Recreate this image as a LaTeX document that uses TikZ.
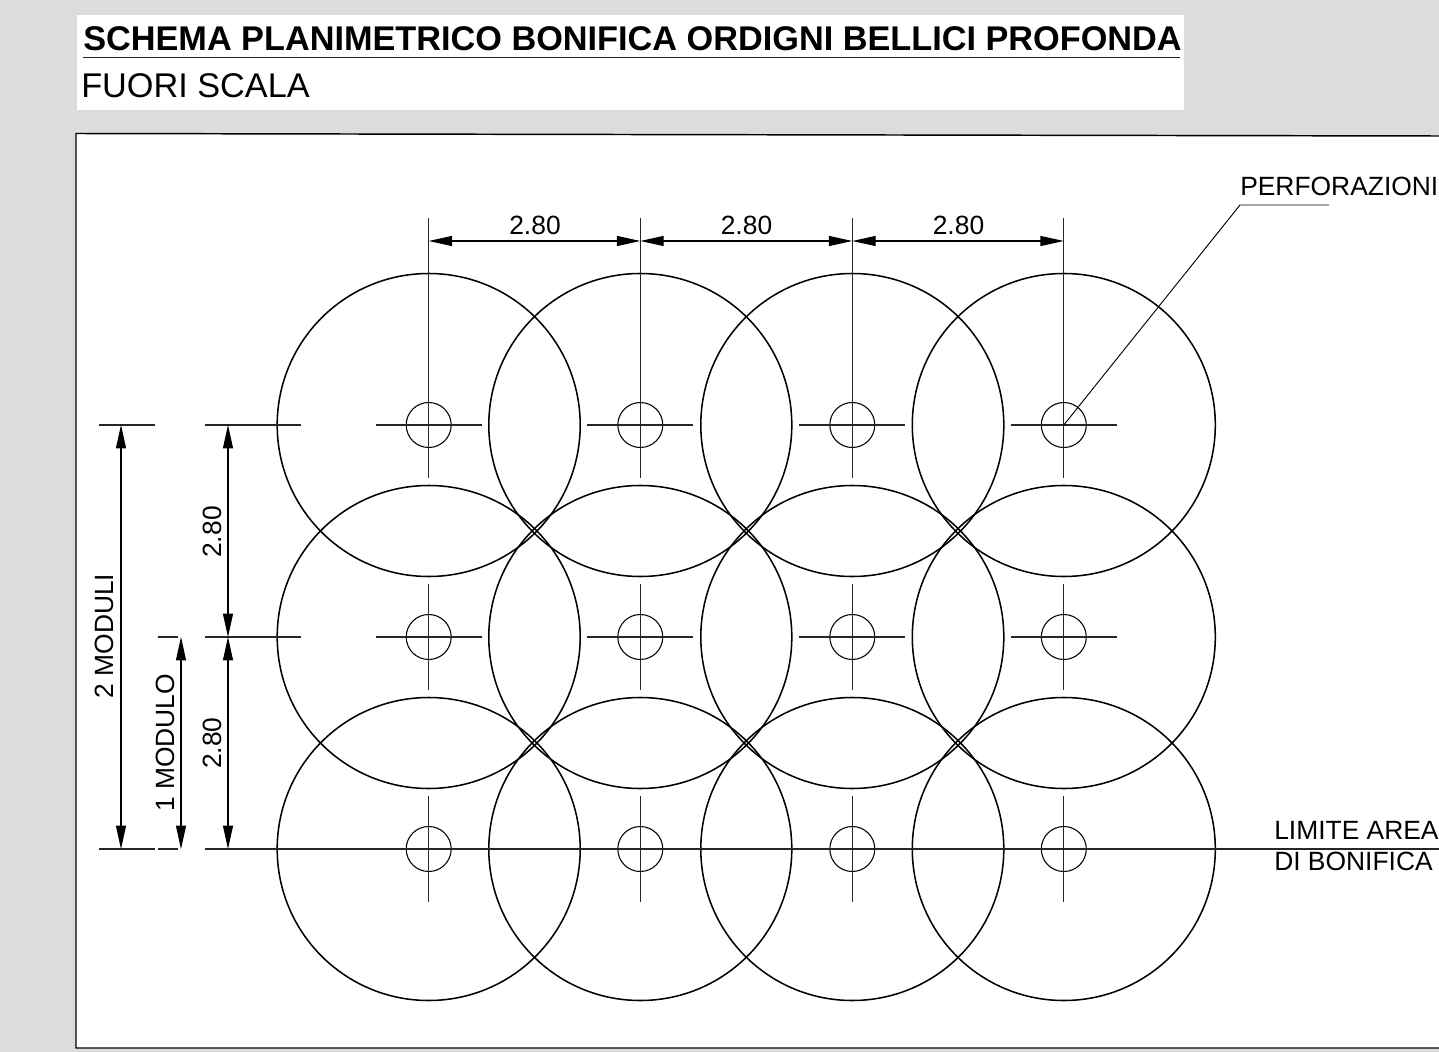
\documentclass[tikz,border=0pt]{standalone}
\usepackage{fontspec}
\setmainfont{Liberation Sans}
\usetikzlibrary{arrows.meta}
\definecolor{sheetgray}{HTML}{DCDCDC}
\tikzset{
  dimline/.style={line width=0.8pt,{Triangle[length=17.5pt,width=7.5pt]}-{Triangle[length=17.5pt,width=7.5pt]}},
  thinline/.style={line width=0.85pt,color=black!85},
  holeline/.style={line width=0.8pt},
  bigline/.style={line width=1.15pt},
  labeltext/.style={anchor=base,inner sep=0pt,font=\fontsize{19.8}{24}\selectfont},
  headtext/.style={anchor=base west,inner sep=0pt,font=\fontsize{25.7}{30}\selectfont}
}

\begin{document}
\begin{tikzpicture}[x=0.75pt,y=0.75pt,yscale=-1,xscale=1]

%Sheet and frame
\fill [sheetgray] (0,0) rectangle (1439,1052);
\useasboundingbox (0,0) rectangle (1439,1052);
\fill [white] (77,15) rectangle (1184,110);
\draw [fill=white,line width=1.1pt] (1439,136) -- (76,133.5) -- (76,1048) -- (1439,1048);

%Title
\node (title) [headtext,font=\fontsize{25.7}{30}\selectfont\bfseries] at (83,50.5) {SCHEMA PLANIMETRICO BONIFICA ORDIGNI BELLICI PROFONDA};
\node (scale) [headtext] at (81,98) {FUORI SCALA};
\draw [thinline] (83,57.5) -- (1180,57.5);

%Grid of perforations
\foreach \cx/\name in {428.7/a,640.3/b,852.3/c,1063.8/d}
  \foreach \cy/\row in {425/1,637/2,849/3}{
    \coordinate (\name\row) at (\cx,\cy);
    \draw [bigline] (\name\row) circle [radius=151.5];
    \draw [holeline] (\name\row) circle [radius=22.5];
    \draw [thinline] (\cx-53,\cy) -- (\cx+53,\cy);
    \draw [thinline] (\cx,\cy-53) -- (\cx,\cy+53);
  }

%Extension lines, top
\foreach \cx/\name in {428.7/a,640.3/b,852.3/c,1063.8/d}{
  \coordinate (top\name) at (\cx,241);
  \draw [thinline] (\cx,218) -- (\name1);
}

%Extension lines, left
\draw [thinline] (99,425) -- (155,425);
\draw [thinline] (205,425) -- (301,425);
\draw [thinline] (205,637) -- (301,637);
\draw [thinline] (158,637) -- (178,637);
\draw [thinline] (99,849) -- (155,849);
\draw [thinline] (158,849) -- (178,849);
\draw [thinline] (205,849) -- (1439,849);

%Dimensions
\coordinate (p1) at (228,425);
\coordinate (p2) at (228,637);
\coordinate (p3) at (228,849);
\coordinate (m1) at (121,425);
\coordinate (m2) at (121,849);
\coordinate (n1) at (181,637);
\coordinate (n2) at (181,849);
\draw [dimline] (topa) -- (topb);
\draw [dimline] (topb) -- (topc);
\draw [dimline] (topc) -- (topd);
\draw [dimline] (p1) -- (p2);
\draw [dimline] (p2) -- (p3);
\draw [dimline] (m1) -- (m2);
\draw [dimline] (n1) -- (n2);

%Leader
\coordinate (bend) at (1240,205);
\coordinate (tail) at (1329,205);
\draw [line width=0.7pt] (d1) -- (bend) -- (tail);

%Labels
\node (w1) [labeltext] at (535,234.5) {2.80};
\node (w2) [labeltext] at (746.5,234.5) {2.80};
\node (w3) [labeltext] at (958.5,234.5) {2.80};
\node (h1) [labeltext,rotate=90] at (221,532) {2.80};
\node (h2) [labeltext,rotate=90] at (221,743) {2.80};
\node (two) [labeltext,rotate=90] at (113.5,636) {2 MODULI};
\node (one) [labeltext,rotate=90] at (174,743) {1 MODULO};
\node (holes) [labeltext,anchor=base west] at (1240,196) {PERFORAZIONI};
\node (limit) [labeltext,anchor=base west] at (1274,839) {LIMITE AREA};
\node (area) [labeltext,anchor=base west] at (1274,870.5) {DI BONIFICA};

\end{tikzpicture}
\end{document}
